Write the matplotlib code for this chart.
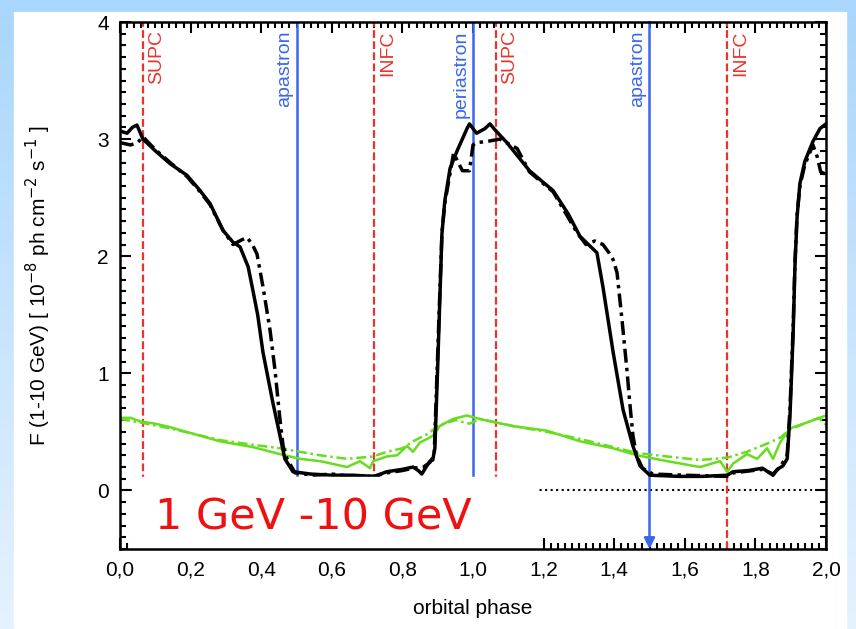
import numpy as np
import matplotlib
matplotlib.use('Agg')
import matplotlib.pyplot as plt
import matplotlib.font_manager as fm
from matplotlib.patches import Rectangle
from matplotlib.ticker import MultipleLocator, FuncFormatter

## fonts
names = set(f.name for f in fm.fontManager.ttflist)
narrow = 'Liberation Sans Narrow' if 'Liberation Sans Narrow' in names else 'Liberation Sans'
plt.rcParams['font.family'] = ['Liberation Sans', 'DejaVu Sans']

## data
# black solid curve
bs_x = [0.0, 0.02, 0.035, 0.048, 0.065, 0.10, 0.142, 0.19, 0.227, 0.255, 0.292, 0.32, 0.34, 0.363,
        0.377, 0.39, 0.405, 0.433, 0.453, 0.467, 0.49, 0.54, 0.6, 0.66, 0.72, 0.756, 0.80, 0.83,
        0.845, 0.855, 0.865, 0.878, 0.886, 0.892, 0.90, 0.906, 0.912, 0.92, 0.935, 0.955, 0.983,
        0.99, 1.01, 1.034, 1.048, 1.065, 1.096, 1.16, 1.227, 1.27, 1.303, 1.351, 1.368, 1.397,
        1.425, 1.453, 1.473, 1.501, 1.586, 1.65, 1.72, 1.737, 1.78, 1.82, 1.835, 1.85, 1.862,
        1.878, 1.89, 1.898, 1.907, 1.912, 1.918, 1.926, 1.94, 1.963, 1.983, 2.0]
bs_y = [3.07, 3.05, 3.10, 3.12, 3.00, 2.90, 2.79, 2.69, 2.56, 2.45, 2.22, 2.12, 2.08, 1.91,
        1.70, 1.50, 1.18, 0.75, 0.47, 0.27, 0.16, 0.14, 0.13, 0.13, 0.12, 0.16, 0.18, 0.20,
        0.17, 0.14, 0.19, 0.25, 0.26, 0.36, 1.06, 1.63, 2.19, 2.47, 2.75, 2.90, 3.09,
        3.13, 3.05, 3.09, 3.13, 3.07, 2.97, 2.73, 2.56, 2.36, 2.17, 2.03, 1.74, 1.18,
        0.69, 0.38, 0.21, 0.13, 0.12, 0.12, 0.13, 0.16, 0.17, 0.19, 0.16, 0.13, 0.18,
        0.21, 0.27, 0.64, 1.35, 1.91, 2.33, 2.62, 2.81, 2.98, 3.09, 3.13]

# black dash-dot curve
bd_x = [0.0, 0.03, 0.05, 0.065, 0.10, 0.142, 0.19, 0.227, 0.255, 0.292, 0.32, 0.345, 0.36, 0.375,
        0.388, 0.405, 0.425, 0.439, 0.453, 0.462, 0.473, 0.496, 0.55, 0.6, 0.66, 0.72, 0.756,
        0.80, 0.83, 0.86, 0.878, 0.89, 0.898, 0.905, 0.912, 0.92, 0.945, 0.97, 0.99, 1.0, 1.01,
        1.04, 1.076, 1.125, 1.16, 1.227, 1.295, 1.32, 1.345, 1.368, 1.385, 1.397, 1.408, 1.422,
        1.436, 1.445, 1.453, 1.463, 1.48, 1.51, 1.6, 1.72, 1.737, 1.82, 1.85, 1.87, 1.89, 1.898,
        1.907, 1.912, 1.918, 1.926, 1.94, 1.963, 1.975, 1.985, 2.0]
bd_y = [2.97, 2.95, 2.97, 3.02, 2.91, 2.80, 2.68, 2.55, 2.44, 2.22, 2.10, 2.14, 2.16, 2.10,
        2.02, 1.74, 1.37, 1.03, 0.61, 0.38, 0.27, 0.15, 0.13, 0.14, 0.12, 0.12, 0.15,
        0.17, 0.19, 0.20, 0.24, 0.30, 1.00, 1.60, 2.20, 2.45, 2.88, 2.73, 2.73, 2.95, 2.97,
        2.98, 3.00, 2.92, 2.72, 2.55, 2.20, 2.10, 2.13, 2.10, 2.03, 1.97, 1.86, 1.46,
        1.03, 0.72, 0.47, 0.30, 0.19, 0.14, 0.13, 0.12, 0.15, 0.18, 0.14, 0.20, 0.30, 0.70,
        1.40, 1.95, 2.35, 2.60, 2.78, 2.95, 2.85, 2.72, 2.70]

# green solid curve
gs_x = [0.0, 0.03, 0.057, 0.10, 0.142, 0.20, 0.283, 0.377, 0.453, 0.51, 0.567, 0.643, 0.68, 0.708,
        0.717, 0.756, 0.785, 0.813, 0.83, 0.85, 0.87, 0.887, 0.906, 0.943, 0.983, 1.02, 1.065,
        1.113, 1.21, 1.303, 1.397, 1.465, 1.55, 1.643, 1.70, 1.72, 1.737, 1.776, 1.805, 1.833,
        1.85, 1.87, 1.898, 1.946, 2.0]
gs_y = [0.62, 0.62, 0.59, 0.57, 0.54, 0.49, 0.42, 0.37, 0.31, 0.27, 0.25, 0.20, 0.25, 0.19,
        0.25, 0.29, 0.30, 0.38, 0.33, 0.41, 0.44, 0.47, 0.55, 0.61, 0.64, 0.61, 0.58,
        0.55, 0.51, 0.42, 0.36, 0.30, 0.25, 0.20, 0.25, 0.16, 0.23, 0.31, 0.27, 0.36,
        0.27, 0.41, 0.53, 0.58, 0.64]

# green dash-dot curve
gd_x = [0.0, 0.057, 0.142, 0.283, 0.377, 0.453, 0.51, 0.567, 0.643, 0.717, 0.756, 0.80, 0.83, 0.87,
        0.906, 0.95, 0.99, 1.02, 1.113, 1.21, 1.303, 1.397, 1.465, 1.55, 1.643, 1.72, 1.776, 1.833,
        1.87, 1.898, 1.946, 1.98, 2.0]
gd_y = [0.61, 0.58, 0.53, 0.43, 0.39, 0.36, 0.33, 0.30, 0.27, 0.29, 0.33, 0.36, 0.42, 0.48,
        0.56, 0.60, 0.57, 0.61, 0.55, 0.50, 0.44, 0.37, 0.32, 0.29, 0.26, 0.28, 0.33, 0.40,
        0.45, 0.52, 0.58, 0.62, 0.56]

# marked orbital positions
red_pos = [0.065, 0.72, 1.065, 1.72]
red_lab = ['SUPC', 'INFC', 'SUPC', 'INFC']
blue_pos = [0.5, 1.0, 1.5]
blue_lab = ['apastron', 'periastron', 'apastron']

xticks = np.arange(0, 2.01, 0.2)
yticks = [0, 1, 2, 3, 4]

col_red = '#e8342c'
col_blue = '#3a66ee'
col_green = '#66dd1e'

fig = plt.figure(figsize=(8.56, 6.29), dpi=100)

# light blue background with white panel
bg = fig.add_axes([0, 0, 1, 1], zorder=-10)
grad = np.linspace(0, 1, 256).reshape(-1, 1)
c_top = np.array([0.66, 0.84, 0.99])
c_bot = np.array([0.90, 0.95, 1.0])
img = c_top[None, None, :] * (1 - grad[:, :, None]) + c_bot[None, None, :] * grad[:, :, None]
bg.imshow(img, aspect='auto', extent=[0, 1, 0, 1])
bg.add_patch(Rectangle((14 / 856, 0), 832 / 856, 617 / 629, color='white'))
bg.set_xlim(0, 1)
bg.set_ylim(0, 1)
bg.axis('off')

ax = fig.add_axes([120 / 856, 1 - 549 / 629, 706 / 856, 527 / 629])

dd = (0, (4, 1.5, 1, 1.5))
ax.plot(gs_x, gs_y, color=col_green, lw=1.8, zorder=1.6)
ax.plot(gd_x, gd_y, color=col_green, lw=1.8, ls=dd, zorder=1.6)
ax.plot(bd_x, bd_y, color='k', lw=2.5, ls=dd, zorder=1.7)
ax.plot(bs_x, bs_y, color='k', lw=2.5, zorder=1.7)
ax.axhline(0, color='k', lw=1.5, ls=':', zorder=1.5)

for x, lab in zip(red_pos, red_lab):
    ax.axvline(x, color=col_red, lw=1.6, ls=(0, (3.5, 1.5)), zorder=1.55)
    ax.text(x + 0.014, 3.93, lab, color=col_red, rotation=90, ha='left', va='top', fontsize=14)
for x, lab in zip(blue_pos, blue_lab):
    if x == 1.5:
        ax.annotate('', xy=(x, -0.5), xytext=(x, 4.0),
                    arrowprops=dict(arrowstyle='-|>', color=col_blue, lw=1.8,
                                    mutation_scale=16, shrinkA=0, shrinkB=0), zorder=1.55)
    else:
        ax.axvline(x, color=col_blue, lw=1.8, zorder=1.55)
    ax.text(x - 0.01, 3.93, lab, color=col_blue, rotation=90, ha='right', va='top', fontsize=14)

# white label box over the lower left
ax.add_patch(Rectangle((12 / 706, 0), 405 / 706, 72 / 527, transform=ax.transAxes,
                       color='white', zorder=2.2))
ax.text(35 / 706, 19 / 527, '1 GeV -10 GeV', transform=ax.transAxes, color='#f01010',
        fontsize=31, family='DejaVu Sans', ha='left', va='baseline', zorder=3)

ax.set_xlim(0, 2)
ax.set_ylim(-0.5, 4)
ax.set_xticks(xticks)
ax.set_yticks(yticks)
ax.xaxis.set_minor_locator(MultipleLocator(0.02))
ax.yaxis.set_minor_locator(MultipleLocator(0.1))
ax.xaxis.set_major_formatter(FuncFormatter(lambda v, p: ('%.1f' % v).replace('.', ',')))
ax.tick_params(which='both', direction='in', top=True, right=True, width=1.5)
ax.tick_params(which='major', length=8, pad=8)
ax.tick_params(which='minor', length=4)
for lab in ax.get_xticklabels() + ax.get_yticklabels():
    lab.set_fontfamily(narrow)
    lab.set_fontsize(15)
for s in ax.spines.values():
    s.set_linewidth(1.8)

ax.set_xlabel('orbital phase', fontsize=15, family=narrow, labelpad=14)
ax.set_ylabel(r'F (1-10 GeV) [ 10$^{-8}$ ph cm$^{-2}$ s$^{-1}$ ]', fontsize=15, labelpad=32)

fig.savefig('out.png', dpi=100)
